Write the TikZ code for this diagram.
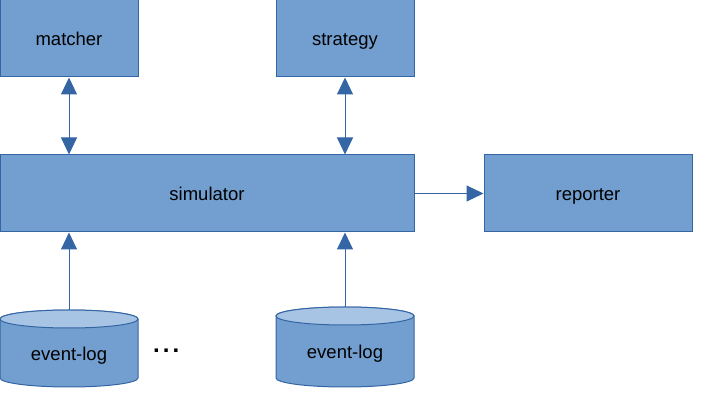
\documentclass[tikz,border=0pt]{standalone}
\usepackage{fontspec}
\setmainfont{Liberation Sans}
\usetikzlibrary{arrows.meta}
\definecolor{boxfill}{HTML}{729FCF}
\definecolor{boxline}{HTML}{3465A4}
\definecolor{captop}{HTML}{A7C4E5}
\begin{document}
\begin{tikzpicture}[x=1pt,y=1pt,
  lbl/.style={font=\fontsize{18.5}{22}\selectfont},
  box/.style={lbl, draw=boxline, fill=boxfill, line width=1pt, inner sep=0pt, text height=15pt, text depth=0pt},
  smallbox/.style={box, minimum width=138pt, minimum height=77pt},
  conn/.style={draw=boxline, line width=1pt, -{Triangle[width=16pt,length=17pt]}},
  dual/.style={draw=boxline, line width=1pt, {Triangle[width=16pt,length=17pt]}-{Triangle[width=16pt,length=17pt]}},
  cylbody/.style={fill=boxfill, draw=boxline, line width=1pt},
  cyltop/.style={fill=captop, draw=boxline, line width=1pt}]
\useasboundingbox (0,0) rectangle (720,420);

\node[smallbox] (matcher) at (69,381.5) {matcher};
\node[smallbox] (strategy) at (345,381.5) {strategy};
\node[box, minimum width=414pt, minimum height=77pt] (simulator) at (207,226.5) {simulator};
\node[box, minimum width=208pt, minimum height=77pt] (reporter) at (588,226.5) {reporter};

% cylinder 1
\filldraw[cylbody] (0,101) -- (0,42) arc[start angle=180,end angle=360,x radius=69,y radius=9]
  -- (138,101) arc[start angle=0,end angle=180,x radius=69,y radius=9] -- cycle;
\filldraw[cyltop] (69,101) ellipse[x radius=69,y radius=9];
\node[lbl, anchor=base] (log1) at (69,59) {event-log};
\coordinate (top1) at (69,110);

% cylinder 2
\filldraw[cylbody] (276,104) -- (276,42) arc[start angle=180,end angle=360,x radius=69,y radius=9]
  -- (414,104) arc[start angle=0,end angle=180,x radius=69,y radius=9] -- cycle;
\filldraw[cyltop] (345,104) ellipse[x radius=69,y radius=9];
\node[lbl, anchor=base] (log2) at (345,61) {event-log};
\coordinate (top2) at (345,113);

\node[font=\fontsize{24}{28}\selectfont\bfseries, anchor=base west, inner sep=0pt] (dots) at (153,67) {.\hspace{3pt}.\hspace{3pt}.};

\draw[dual] (matcher.south) -- (simulator.north -| matcher.south);
\draw[dual] (strategy.south) -- (simulator.north -| strategy.south);
\draw[conn] (simulator.east) -- (reporter.west);
\draw[conn] (top1) -- (simulator.south -| top1);
\draw[conn] (top2) -- (simulator.south -| top2);
\end{tikzpicture}
\end{document}
